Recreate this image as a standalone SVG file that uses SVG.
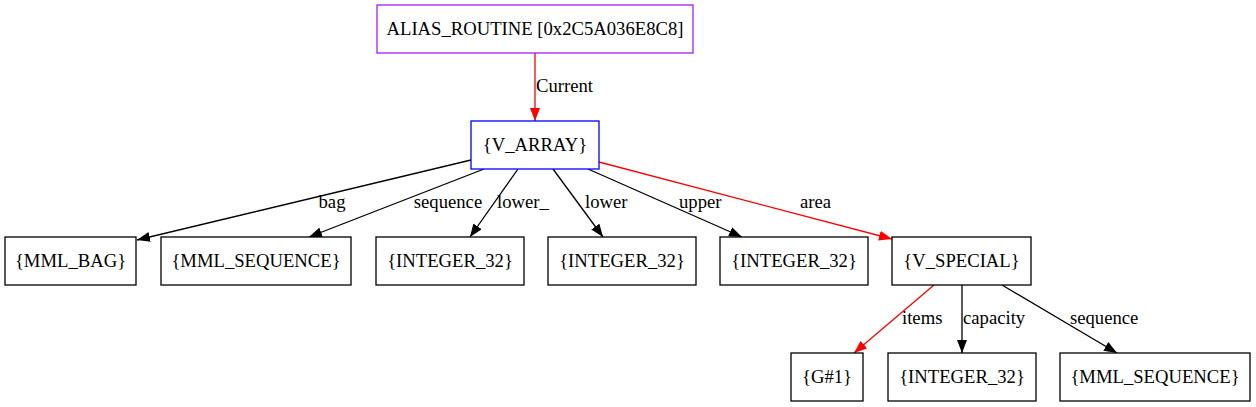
<svg xmlns="http://www.w3.org/2000/svg" width="1256" height="407" viewBox="0 0 1256 407">
<style>
text{font-family:"Liberation Serif","Times New Roman",serif;font-size:18.67px;fill:#000}
.n{fill:#fff;stroke:#000;stroke-width:1.3}
.c{text-anchor:middle}
.e{fill:none;stroke:#000;stroke-width:1.3;marker-end:url(#ab)}
.r{stroke:#f00;marker-end:url(#ar)}
</style>
<defs>
<marker id="ab" markerUnits="userSpaceOnUse" viewBox="0 0 13 10" markerWidth="13" markerHeight="10" refX="13" refY="5" orient="auto"><path d="M0,0L13,5L0,10z" fill="#000"/></marker>
<marker id="ar" markerUnits="userSpaceOnUse" viewBox="0 0 13 10" markerWidth="13" markerHeight="10" refX="13" refY="5" orient="auto"><path d="M0,0L13,5L0,10z" fill="#f00"/></marker>
</defs>
<rect width="1256" height="407" fill="#fff"/>
<g id="connectors">
<line class="e r" x1="535" y1="53" x2="535" y2="121"/>
<text x="536" y="92">Current</text>
<line class="e" x1="471" y1="160" x2="137" y2="240"/>
<text class="c" x="332" y="208">bag</text>
<line class="e" x1="484" y1="169" x2="309" y2="237"/>
<text class="c" x="448" y="208">sequence</text>
<line class="e" x1="518" y1="169" x2="470" y2="237"/>
<text x="497" y="208">lower_</text>
<line class="e" x1="553" y1="169" x2="603" y2="237"/>
<text x="585" y="208">lower</text>
<line class="e" x1="588" y1="169" x2="742" y2="237"/>
<text x="679" y="208">upper</text>
<line class="e r" x1="599" y1="162" x2="892" y2="239"/>
<text x="800" y="208">area</text>
<line class="e r" x1="934" y1="285" x2="854" y2="353"/>
<text x="902" y="324">items</text>
<line class="e" x1="962" y1="285" x2="962" y2="353"/>
<text x="963" y="324">capacity</text>
<line class="e" x1="1002" y1="285" x2="1117" y2="353"/>
<text x="1070" y="324">sequence</text>
</g>
<g id="alias_routine"><rect class="n" x="377" y="5" width="316" height="48" style="stroke:#a020f0"/><text class="c" x="535" y="35">ALIAS_ROUTINE [0x2C5A036E8C8]</text></g>
<g id="v_array"><rect class="n" x="471" y="121" width="128" height="48" style="stroke:#00f"/><text class="c" x="535" y="151">{V_ARRAY}</text></g>
<g id="mml_bag"><rect class="n" x="5" y="237" width="131" height="48"/><text class="c" x="70.5" y="267">{MML_BAG}</text></g>
<g id="mml_sequence_1"><rect class="n" x="161" y="237" width="190" height="48"/><text class="c" x="256" y="267">{MML_SEQUENCE}</text></g>
<g id="integer_32_1"><rect class="n" x="376" y="237" width="148" height="48"/><text class="c" x="450" y="267">{INTEGER_32}</text></g>
<g id="integer_32_2"><rect class="n" x="548" y="237" width="148" height="48"/><text class="c" x="622" y="267">{INTEGER_32}</text></g>
<g id="integer_32_3"><rect class="n" x="720" y="237" width="148" height="48"/><text class="c" x="794" y="267">{INTEGER_32}</text></g>
<g id="v_special"><rect class="n" x="892" y="237" width="139" height="48"/><text class="c" x="961.5" y="267">{V_SPECIAL}</text></g>
<g id="g1"><rect class="n" x="791" y="353" width="72" height="48"/><text class="c" x="827" y="383">{G#1}</text></g>
<g id="integer_32_4"><rect class="n" x="888" y="353" width="148" height="48"/><text class="c" x="962" y="383">{INTEGER_32}</text></g>
<g id="mml_sequence_2"><rect class="n" x="1060" y="353" width="190" height="48"/><text class="c" x="1155" y="383">{MML_SEQUENCE}</text></g>
</svg>
